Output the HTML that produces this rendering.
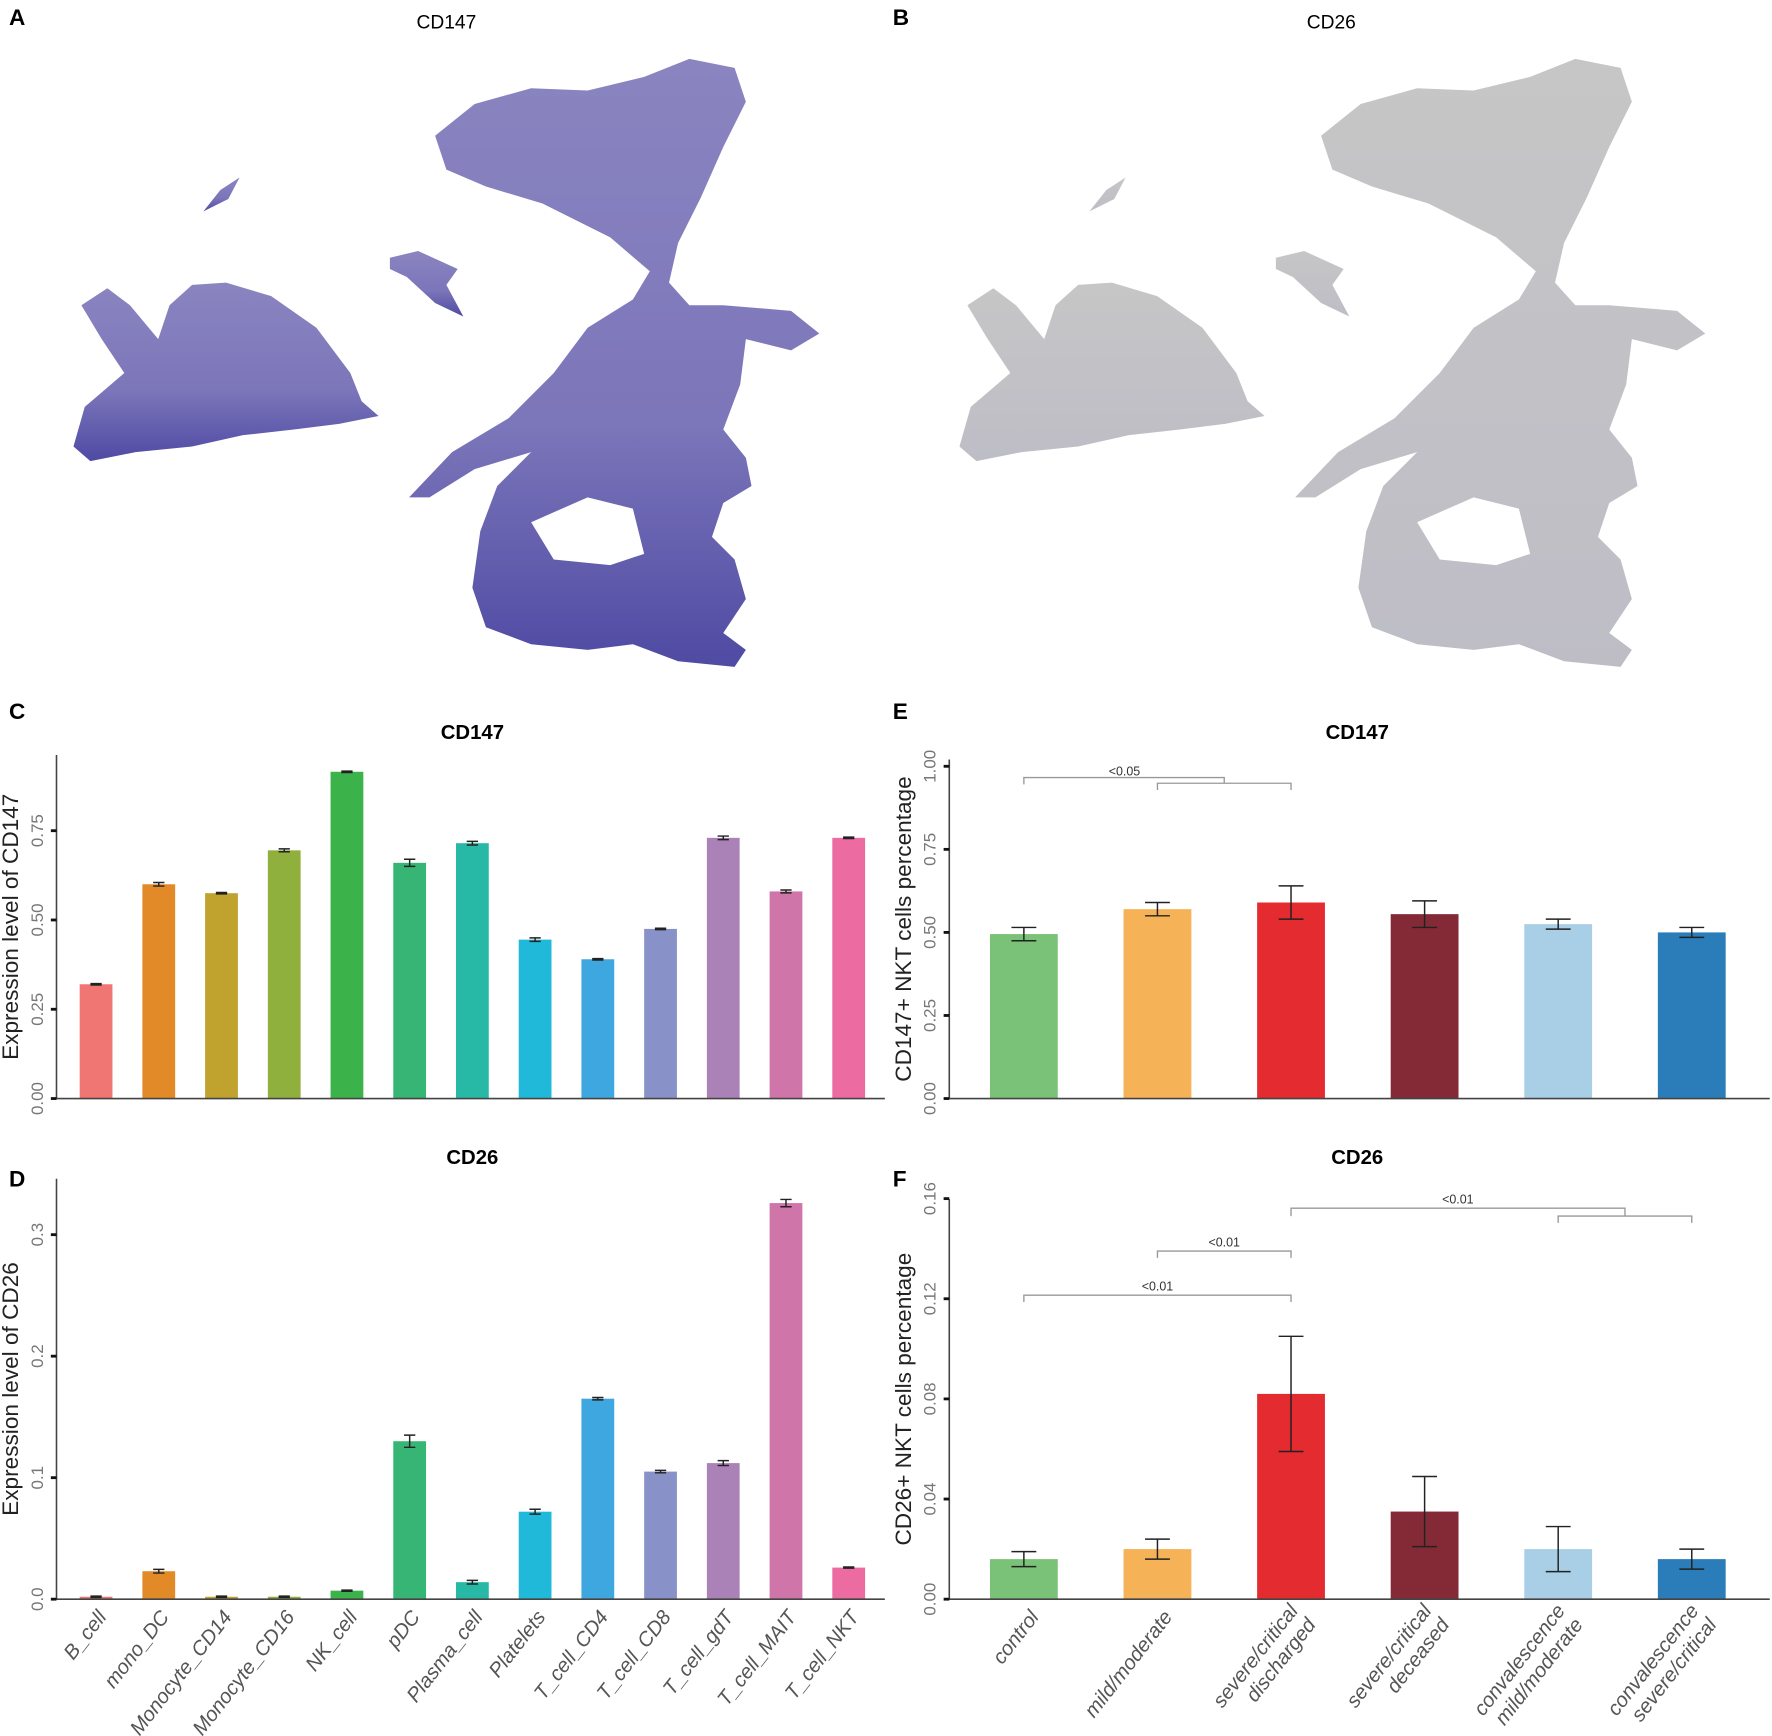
<!DOCTYPE html>
<html><head><meta charset="utf-8"><style>
html,body{margin:0;padding:0;background:#fff}
svg{display:block}
text{font-family:"Liberation Sans",Arial,sans-serif}
</style></head><body>
<svg id="fig" xmlns="http://www.w3.org/2000/svg" width="1772" height="1736" viewBox="0 0 1568 1536">
<defs>
<linearGradient id="gA" x1="0" y1="0" x2="0" y2="1">
<stop offset="0" stop-color="#8a85c0"/><stop offset="0.6" stop-color="#7c76ba"/><stop offset="1" stop-color="#4f4aa3"/></linearGradient>
<linearGradient id="gB" x1="0" y1="0" x2="0" y2="1">
<stop offset="0" stop-color="#c6c6c6"/><stop offset="1" stop-color="#bebdc6"/></linearGradient>
<g id="umap">
<path d="M65,395 L75,360 L110,330 L90,300 L72,270 L95,255 L115,270 L140,300 L150,270 L170,252 L200,250 L240,262 L280,290 L310,330 L320,355 L335,368 L300,375 L260,380 L215,385 L170,395 L120,400 L80,408 Z"/>
<path d="M180,187 L195,168 L212,157 L202,176 Z"/>
<path d="M345,228 L370,222 L405,238 L395,252 L410,280 L385,268 L360,245 L345,238 Z"/>
<path fill-rule="evenodd" d="M385,120 L420,92 L470,78 L520,80 L570,68 L610,52 L650,60 L660,90 L640,130 L620,175 L600,215 L592,250 L610,270 L640,270 L700,275 L725,295 L700,310 L660,300 L655,340 L640,380 L660,405 L665,430 L640,445 L630,475 L650,495 L660,530 L640,560 L660,575 L650,590 L600,585 L560,570 L520,575 L470,570 L430,555 L418,520 L425,470 L440,430 L470,400 L420,415 L380,440 L362,440 L400,400 L450,370 L490,330 L520,290 L560,265 L575,240 L540,210 L480,180 L430,165 L395,150 Z M470,462 L520,440 L560,450 L570,490 L540,500 L490,495 Z"/>
</g>
</defs>
<g fill="url(#gA)"><use href="#umap"/></g>
<g fill="url(#gB)" transform="translate(784,0)"><use href="#umap"/></g>
<text x="8" y="22" font-size="20" font-weight="bold">A</text>
<text x="395" y="25" font-size="17" text-anchor="middle">CD147</text>
<text x="790" y="22" font-size="20" font-weight="bold">B</text>
<text x="1178" y="25" font-size="17" text-anchor="middle">CD26</text>
<text x="8" y="636" font-size="20" font-weight="bold">C</text>
<text x="8" y="1050" font-size="20" font-weight="bold">D</text>
<text x="790" y="636" font-size="20" font-weight="bold">E</text>
<text x="790" y="1050" font-size="20" font-weight="bold">F</text>
<g id="charts"></g>
</svg>
<script>
// Cell type data (panels C, D)
const cellTypes = ["B_cell","mono_DC","Monocyte_CD14","Monocyte_CD16","NK_cell","pDC","Plasma_cell","Platelets","T_cell_CD4","T_cell_CD8","T_cell_gdT","T_cell_MAIT","T_cell_NKT"];
const cellColors = ["#ef7672","#e28a27","#c0a22e","#8fb03c","#3cb34a","#36b574","#27b9a5","#21b9da","#3ea7e0","#8892c8","#ab82b8","#cf75aa","#ec6ba0"];
const cd147Expr = [0.32,0.60,0.575,0.695,0.915,0.66,0.715,0.445,0.39,0.475,0.73,0.58,0.73];
const cd147ExprErr = [0.002,0.005,0.002,0.004,0.002,0.01,0.005,0.005,0.002,0.002,0.005,0.004,0.002];
const cd147Ticks = ["0.00","0.25","0.50","0.75"];
const cd26Expr = [0.002,0.023,0.002,0.002,0.007,0.130,0.014,0.072,0.165,0.105,0.112,0.326,0.026];
const cd26ExprErr = [0.0005,0.0015,0.0005,0.0005,0.0005,0.005,0.0015,0.002,0.001,0.001,0.002,0.003,0.0005];
const cd26Ticks = ["0.0","0.1","0.2","0.3"];
// Group data (panels E, F)
const groups = ["control","mild/moderate","severe/critical\ndischarged","severe/critical\ndeceased","convalescence\nmild/moderate","convalescence\nsevere/critical"];
const groupColors = ["#79c277","#f5b256","#e32b30","#842a36","#a9cfe6","#2a7db9"];
const cd147Pct = [0.495,0.57,0.59,0.555,0.525,0.50];
const cd147PctErr = [0.02,0.02,0.05,0.04,0.015,0.015];
const cd147PctTicks = ["0.00","0.25","0.50","0.75","1.00"];
const cd26Pct = [0.016,0.020,0.082,0.035,0.020,0.016];
const cd26PctErr = [0.003,0.004,0.023,0.014,0.009,0.004];
const cd26PctTicks = ["0.00","0.04","0.08","0.12","0.16"];

const NS="http://www.w3.org/2000/svg";
const root=document.getElementById('charts');
function mk(tag,attrs,parent){const e=document.createElementNS(NS,tag);for(const k in attrs)e.setAttribute(k,attrs[k]);(parent||root).appendChild(e);return e;}

function chart(o){
  const g=mk('g',{});
  
  
  const y=v=>o.base-(v/o.max)*(o.base-o.top);
  const x=i=>o.x0+i*o.step;
  const t=mk('text',{x:o.titleX,y:o.titleY,'font-size':18,'font-weight':'bold','text-anchor':'middle'},g);
  t.textContent=o.title;
  
  
  o.vals.forEach((v,i)=>{
    const r=mk('rect',{x:x(i)-o.bw/2,y:y(v),width:o.bw,height:o.base-y(v),fill:o.colors[i]},g);
    
    
    const e=o.errs[i], cx=x(i), cap=o.cap;
    const eb=mk('path',{d:`M${cx},${y(v+e)}V${y(v-e)}M${cx-cap},${y(v+e)}H${cx+cap}M${cx-cap},${y(v-e)}H${cx+cap}`,stroke:'#222','stroke-width':1.3,fill:'none'},g);
    
    
  });
  const ax=mk('path',{d:`M${o.axX},${o.top}V${o.base}H${o.right}`,stroke:'#444','stroke-width':1.4,fill:'none'},g);
  
  
  o.ticks.forEach(tl=>{
    const v=parseFloat(tl), ty=y(v);
    const tk=mk('line',{x1:o.axX-5,x2:o.axX,y1:ty,y2:ty,stroke:'#111','stroke-width':2.5},g);
    
    
    const lb=mk('text',{x:0,y:0,'font-size':15,fill:'#777','text-anchor':'middle',transform:`translate(${o.axX-12},${ty}) rotate(-90)`},g);
    lb.textContent=tl;
    
    
  });
  const yt=mk('text',{x:0,y:0,'font-size':20,fill:'#222','text-anchor':'middle',transform:`translate(${o.axX-34},${(o.top+o.base)/2}) rotate(-90)`},g);
  yt.textContent=o.ytitle;
  
  
  if(o.xlabels){
    o.cats.forEach((c,i)=>{
      const lines=c.split('\n');
      const tx=mk('text',{x:0,y:0,'font-size':18,fill:'#555','font-style':'italic','text-anchor':'end',transform:`translate(${x(i)+o.lblDx},${o.base+16}) rotate(${o.rot})`},g);
      
      
      lines.forEach((l,j)=>{const s=mk('tspan',{x:0,dy:lines.length>1?(j?20:-9):0},tx);s.textContent=l;});
    });
  }
  return {g,x,y};
}

const C=chart({name:'cd147-expression-chart',title:'CD147',titleX:418,titleY:654,cats:cellTypes,colors:cellColors,vals:cd147Expr,errs:cd147ExprErr,ticks:cd147Ticks,max:0.962,top:668,base:972,axX:50,right:783,x0:85,step:55.5,bw:29,cap:5,ytitle:'Expression level of CD147',xlabels:false});
const D=chart({name:'cd26-expression-chart',title:'CD26',titleX:418,titleY:1030,cats:cellTypes,colors:cellColors,vals:cd26Expr,errs:cd26ExprErr,ticks:cd26Ticks,max:0.346,top:1043,base:1415,axX:50,right:783,x0:85,step:55.5,bw:29,cap:5,ytitle:'Expression level of CD26',xlabels:true,rot:-52,lblDx:10});
const E=chart({name:'cd147-nkt-percentage-chart',title:'CD147',titleX:1201,titleY:654,cats:groups,colors:groupColors,vals:cd147Pct,errs:cd147PctErr,ticks:cd147PctTicks,max:1.0204,top:672,base:972,axX:840,right:1566,x0:906,step:118.2,bw:60,cap:11,ytitle:'CD147+ NKT cells percentage',xlabels:false});
const F=chart({name:'cd26-nkt-percentage-chart',title:'CD26',titleX:1201,titleY:1030,cats:groups,colors:groupColors,vals:cd26Pct,errs:cd26PctErr,ticks:cd26PctTicks,max:0.1598,top:1061,base:1415,axX:840,right:1566,x0:906,step:118.2,bw:60,cap:11,ytitle:'CD26+ NKT cells percentage',xlabels:true,rot:-52,lblDx:14});

function bracket(ch,i,j,yy,label){
  const x1=ch.x(i),x2=ch.x(j);
  const p=mk('path',{d:`M${x1},${yy+6}V${yy}H${x2}V${yy+6}`,stroke:'#999','stroke-width':1.2,fill:'none'},ch.g);
  
  
  if(label){const t=mk('text',{x:(x1+x2)/2,y:yy-4,'font-size':11,'text-anchor':'middle',fill:'#333'},ch.g);t.textContent=label;
    
    }
}
bracket(E,1,2,693,null);
(function(){const p=mk('path',{d:`M${E.x(0)},${694}V${688}H${(E.x(1)+E.x(2))/2}V${693}`,stroke:'#999','stroke-width':1.2,fill:'none'},E.g);


const t=mk('text',{x:995,y:686,'font-size':11,'text-anchor':'middle',fill:'#333'},E.g);t.textContent='<0.05';

})();
bracket(F,0,2,1146,'<0.01');
bracket(F,1,2,1107,'<0.01');
bracket(F,4,5,1076,null);
(function(){const p=mk('path',{d:`M${F.x(2)},${1076}V${1069}H${(F.x(4)+F.x(5))/2}V${1076}`,stroke:'#999','stroke-width':1.2,fill:'none'},F.g);


const t=mk('text',{x:1290,y:1065,'font-size':11,'text-anchor':'middle',fill:'#333'},F.g);t.textContent='<0.01';

})();
</script>
</body></html>
